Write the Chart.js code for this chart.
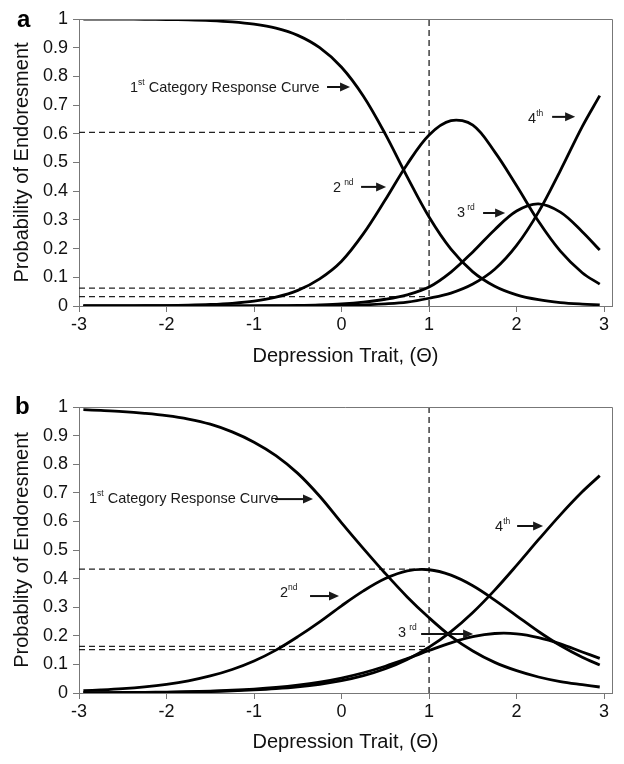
<!DOCTYPE html>
<html>
<head>
<meta charset="utf-8">
<title>Category Response Curves</title>
<script src="https://cdn.jsdelivr.net/npm/chart.js@4.4.1/dist/chart.umd.min.js"></script>
<style>
    body { margin: 0; background: #fff; }
    .panel { position: absolute; left: 0; width: 624px; height: 382px; }
</style>
</head>
<body>
<div class="panel" style="top:0"><canvas id="chart-a" width="624" height="382"></canvas></div>
<div class="panel" style="top:382px"><canvas id="chart-b" width="624" height="382"></canvas></div>
<script>
// 横轴 theta 取值
const theta = [-2.95, -2.75, -2.5, -2.25, -2, -1.75, -1.5, -1.25, -1, -0.75, -0.5, -0.25, 0,
    0.25, 0.5, 0.75, 1, 1.25, 1.5, 1.75, 2, 2.25, 2.5, 2.75, 2.95];

// panel a: category response curves
const catA1 = [0.9998, 0.9997, 0.9995, 0.9991, 0.9983, 0.997, 0.9945, 0.990, 0.982, 0.968, 0.943, 0.900, 0.832,
    0.731, 0.599, 0.450, 0.310, 0.198, 0.119, 0.069, 0.039, 0.022, 0.012, 0.0067, 0.0042];
const catA2 = [0.0002, 0.0003, 0.0005, 0.0009, 0.0016, 0.0028, 0.0052, 0.0095, 0.0171, 0.0307, 0.0544, 0.0945, 0.156,
    0.252, 0.370, 0.494, 0.596, 0.646, 0.630, 0.537, 0.419, 0.295, 0.191, 0.116, 0.076];
const catA3 = [0, 0, 0, 0, 0.0001, 0.0001, 0.0002, 0.0004, 0.0007, 0.0012, 0.0022, 0.0041, 0.0074,
    0.0135, 0.0235, 0.039, 0.066, 0.118, 0.1885, 0.266, 0.331, 0.356, 0.327, 0.259, 0.195];
const catA4 = [0, 0, 0, 0, 0, 0, 0.0001, 0.0001, 0.0002, 0.0004, 0.0007, 0.0012, 0.0022,
    0.0040, 0.0073, 0.0135, 0.027, 0.045, 0.0765, 0.128, 0.211, 0.327, 0.472, 0.625, 0.733];

// panel b
const catB1 = [0.9905, 0.988, 0.984, 0.978, 0.970, 0.958, 0.940, 0.913, 0.877, 0.830, 0.768, 0.688, 0.595,
    0.505, 0.418, 0.336, 0.263, 0.198, 0.147, 0.107, 0.078, 0.056, 0.040, 0.029, 0.021];
const catB2 = [0.008, 0.0106, 0.015, 0.0214, 0.0303, 0.0426, 0.0596, 0.0823, 0.112, 0.150, 0.197, 0.249, 0.305,
    0.357, 0.400, 0.427, 0.431, 0.412, 0.375, 0.325, 0.270, 0.215, 0.166, 0.125, 0.098];
const catB3 = [0.0009, 0.0011, 0.0017, 0.0023, 0.0034, 0.0048, 0.0068, 0.0098, 0.0139, 0.0196, 0.0275, 0.0381, 0.0524,
    0.0708, 0.0936, 0.1202, 0.1484, 0.1755, 0.1968, 0.208, 0.207, 0.194, 0.172, 0.1435, 0.121];
const catB4 = [0.0006, 0.0009, 0.0012, 0.0018, 0.0025, 0.0036, 0.0052, 0.0074, 0.0106, 0.0151, 0.0215, 0.0306, 0.0433,
    0.0609, 0.085, 0.1175, 0.1603, 0.2148, 0.2817, 0.3598, 0.4462, 0.536, 0.623, 0.7035, 0.760];

// 参考虚线 (theta = 1 处)
const refTheta = 1;
const refLevelsA = [0.605, 0.062, 0.033];
const refLevelsB = [0.433, 0.163, 0.152];

// 刻度
const xTicks = [-3, -2, -1, 0, 1, 2, 3];
const yTicks = [0, 0.1, 0.2, 0.3, 0.4, 0.5, 0.6, 0.7, 0.8, 0.9, 1];

// 注释文字和箭头 (数据坐标)
const labelsA = [
    { base: '1', sup: 'st', rest: ' Category Response Curve', x: -2.417, y: 0.76, gap: 0 },
    { base: '2', sup: 'nd', rest: '', x: -0.097, y: 0.411, gap: 3 },
    { base: '3', sup: 'rd', rest: '', x: 1.32, y: 0.324, gap: 2 },
    { base: '4', sup: 'th', rest: '', x: 2.131, y: 0.652, gap: 0 }
];
const arrowsA = [
    { from: -0.166, to: 0.097, y: 0.763 },
    { from: 0.223, to: 0.509, y: 0.415 },
    { from: 1.617, to: 1.869, y: 0.324 },
    { from: 2.406, to: 2.669, y: 0.659 }
];
const labelsB = [
    { base: '1', sup: 'st', rest: ' Category Response Curve', x: -2.886, y: 0.678, gap: 0 },
    { base: '2', sup: 'nd', rest: '', x: -0.703, y: 0.35, gap: 0 },
    { base: '3', sup: 'rd', rest: '', x: 0.646, y: 0.21, gap: 3 },
    { base: '4', sup: 'th', rest: '', x: 1.754, y: 0.58, gap: 0 }
];
const arrowsB = [
    { from: -0.76, to: -0.326, y: 0.678 },
    { from: -0.36, to: -0.029, y: 0.339 },
    { from: 0.909, to: 1.503, y: 0.206 },
    { from: 2.006, to: 2.303, y: 0.584 }
];

const FONT = '"Liberation Sans", Arial, Helvetica, sans-serif';
Chart.defaults.font.family = FONT;
Chart.defaults.color = '#111';

function toPoints(values) {
    return theta.map((t, i) => ({ x: t, y: values[i] }));
}

function curve(values) {
    return {
        data: toPoints(values),
        borderColor: '#000',
        borderWidth: 2.8,
        pointRadius: 0,
        tension: 0.35,
        fill: false
    };
}

function dashed(points) {
    return {
        data: points,
        borderColor: '#222',
        borderWidth: 1.3,
        borderDash: [6, 4],
        pointRadius: 0,
        tension: 0,
        fill: false
    };
}

// 边框、注释、面板字母
const decorations = {
    id: 'decorations',
    afterDatasetsDraw(chart, args, opts) {
        const ctx = chart.ctx;
        const { left, right, top, bottom } = chart.chartArea;
        const xs = chart.scales.x;
        const ys = chart.scales.y;
        ctx.save();

        ctx.strokeStyle = '#777';
        ctx.lineWidth = 1;
        ctx.beginPath();
        ctx.moveTo(left, top + 0.5);
        ctx.lineTo(right + 0.5, top + 0.5);
        ctx.lineTo(right + 0.5, bottom);
        ctx.stroke();

        ctx.fillStyle = '#1a1a1a';
        ctx.textBaseline = 'middle';
        ctx.textAlign = 'left';
        opts.labels.forEach(l => {
            let px = xs.getPixelForValue(l.x);
            const py = ys.getPixelForValue(l.y);
            ctx.font = '14.5px ' + FONT;
            ctx.fillText(l.base, px, py);
            px += ctx.measureText(l.base).width + l.gap;
            ctx.font = '8.5px ' + FONT;
            ctx.fillText(l.sup, px, py - 5);
            px += ctx.measureText(l.sup).width;
            if (l.rest) {
                ctx.font = '14.5px ' + FONT;
                ctx.fillText(l.rest, px, py);
            }
        });

        ctx.strokeStyle = '#111';
        opts.arrows.forEach(a => {
            const x0 = xs.getPixelForValue(a.from);
            const x1 = xs.getPixelForValue(a.to);
            const py = ys.getPixelForValue(a.y);
            ctx.lineWidth = 2;
            ctx.beginPath();
            ctx.moveTo(x0, py);
            ctx.lineTo(x1 - 8, py);
            ctx.stroke();
            ctx.beginPath();
            ctx.moveTo(x1, py);
            ctx.lineTo(x1 - 10, py - 4.5);
            ctx.lineTo(x1 - 10, py + 4.5);
            ctx.closePath();
            ctx.fill();
        });

        ctx.font = 'bold 24px ' + FONT;
        ctx.textBaseline = 'alphabetic';
        ctx.fillStyle = '#000';
        ctx.fillText(opts.letter, opts.letterX, opts.letterY);
        ctx.restore();
    }
};

function makePanel(canvasId, cats, refLevels, yTitle, cfg) {
    const datasets = cats.map(curve);
    refLevels.forEach(v => datasets.push(dashed([{ x: -3, y: v }, { x: refTheta, y: v }])));
    datasets.push(dashed([{ x: refTheta, y: 0 }, { x: refTheta, y: 1 }]));

    return new Chart(document.getElementById(canvasId), {
        type: 'line',
        data: { datasets },
        options: {
            responsive: false,
            animation: false,
            layout: { padding: { left: 0, right: 12, top: cfg.top, bottom: 0 } },
            plugins: {
                legend: { display: false },
                tooltip: { enabled: false },
                decorations: cfg.deco
            },
            scales: {
                x: {
                    type: 'linear',
                    min: -3,
                    max: 3.09,
                    afterBuildTicks: axis => { axis.ticks = xTicks.map(v => ({ value: v })); },
                    afterFit: s => { s.height = cfg.xHeight; },
                    ticks: { callback: v => String(v), font: { size: 18 }, color: '#111', padding: 2, maxRotation: 0, autoSkip: false },
                    grid: { drawOnChartArea: false, tickLength: 6, color: '#777' },
                    border: { color: '#777', width: 1 },
                    title: { display: true, text: 'Depression Trait, (Θ)', font: { size: 20 }, color: '#111', padding: { top: 0, bottom: cfg.xTitlePad } }
                },
                y: {
                    min: 0,
                    max: 1,
                    afterBuildTicks: axis => { axis.ticks = yTicks.map(v => ({ value: v })); },
                    afterFit: s => { s.width = 79; },
                    ticks: { callback: v => String(v), font: { size: 18 }, color: '#111', padding: 5, autoSkip: false },
                    grid: { drawOnChartArea: false, tickLength: 6, color: '#777' },
                    border: { color: '#777', width: 1 },
                    title: { display: true, text: yTitle, font: { size: 20 }, color: '#111', padding: { top: 10, bottom: 0 } }
                }
            }
        },
        plugins: [decorations]
    });
}

document.addEventListener('DOMContentLoaded', () => {
    makePanel('chart-a', [catA1, catA2, catA3, catA4], refLevelsA, 'Probability of Endoresment', {
        top: 19, xHeight: 76, xTitlePad: 14,
        deco: { labels: labelsA, arrows: arrowsA, letter: 'a', letterX: 17, letterY: 27 }
    });
    makePanel('chart-b', [catB1, catB2, catB3, catB4], refLevelsB, 'Probablity of Endoresment', {
        top: 25, xHeight: 71, xTitlePad: 10,
        deco: { labels: labelsB, arrows: arrowsB, letter: 'b', letterX: 15, letterY: 32 }
    });
});
</script>
</body>
</html>
